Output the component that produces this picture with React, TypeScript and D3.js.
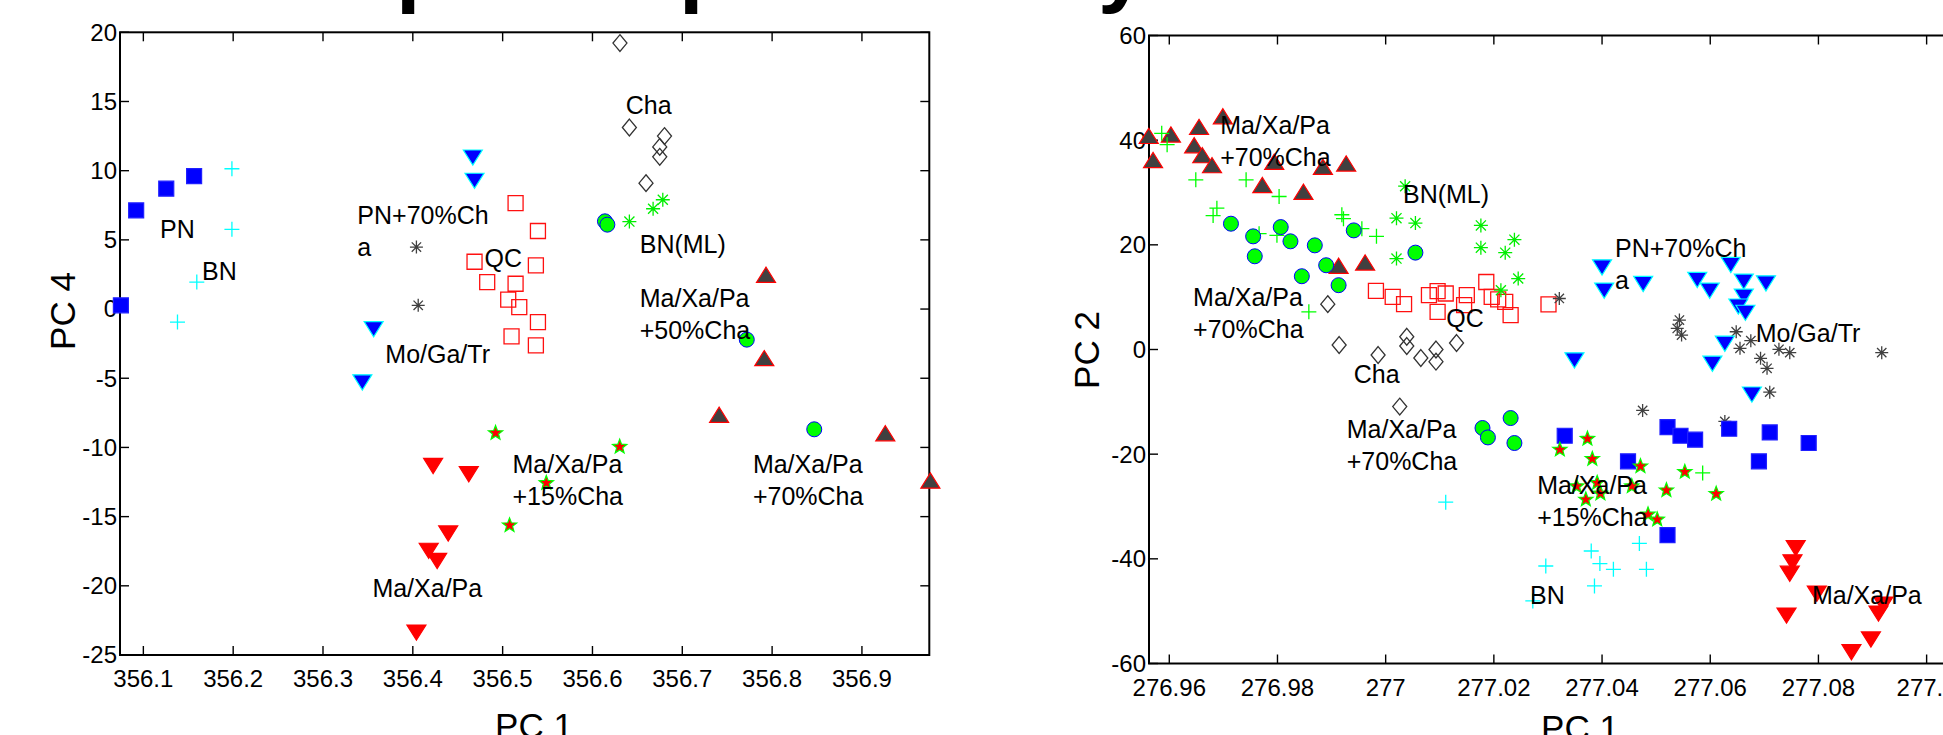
import React from "react";
import * as d3 from "d3";

const W = 1943;
const H = 735;
const FONT = "'Liberation Sans', Arial, Helvetica, sans-serif";

// ---------- left panel: PC 1 vs PC 4 ----------
const leftXTicks = [356.1, 356.2, 356.3, 356.4, 356.5, 356.6, 356.7, 356.8, 356.9];
const leftYTicks = [-25, -20, -15, -10, -5, 0, 5, 10, 15, 20];

const lPN = [[356.092, 7.13], [356.1255, 8.7], [356.1565, 9.61], [356.075, 0.27]];
const lBN = [[356.1986, 10.14], [356.1986, 5.76], [356.1595, 1.95], [356.138, -0.94]];
const lPN70 = [[356.4668, 10.98], [356.4687, 9.3], [356.3564, -1.42], [356.3438, -5.27]];
const lMGT = [[356.404, 4.48], [356.406, 0.27]];
const lQC = [
  [356.5144, 7.66], [356.5393, 5.64], [356.4687, 3.42], [356.537, 3.16],
  [356.4828, 1.95], [356.5144, 1.83], [356.5062, 0.68], [356.5185, 0.14],
  [356.5393, -0.94], [356.5099, -1.97], [356.537, -2.62],
];
const lCha = [
  [356.6306, 19.22], [356.6411, 13.12], [356.6802, 12.5],
  [356.6749, 11.72], [356.6749, 11.0], [356.6596, 9.1],
];
const lBNML = [[356.6411, 6.32], [356.6675, 7.25], [356.6783, 7.9]];
const lM50 = [[356.6139, 6.34], [356.6166, 6.1], [356.7718, -2.21], [356.8469, -8.69]];
const lM70 = [[356.7932, 2.44], [356.7913, -3.58], [356.741, -7.68], [356.926, -9.01], [356.9762, -12.43]];
const lMXP = [
  [356.4226, -11.3], [356.4623, -11.9], [356.4394, -16.19],
  [356.4177, -17.44], [356.4271, -18.17], [356.404, -23.35],
];
const lM15 = [[356.4921, -8.96], [356.5077, -15.63], [356.5486, -12.57], [356.6303, -9.95]];

const leftLabels = [
  { x: 356.1186, y: 5.11, lines: ["PN"] },
  { x: 356.1654, y: 2.07, lines: ["BN"] },
  { x: 356.3382, y: 6.12, lines: ["PN+70%Ch", "a"] },
  { x: 356.4798, y: 3.01, lines: ["QC"] },
  { x: 356.3694, y: -3.92, lines: ["Mo/Ga/Tr"] },
  { x: 356.637, y: 14.07, lines: ["Cha"] },
  { x: 356.6526, y: 4.02, lines: ["BN(ML)"] },
  { x: 356.6526, y: 0.12, lines: ["Ma/Xa/Pa", "+50%Cha"] },
  { x: 356.355, y: -20.83, lines: ["Ma/Xa/Pa"] },
  { x: 356.511, y: -11.87, lines: ["Ma/Xa/Pa", "+15%Cha"] },
  { x: 356.7786, y: -11.87, lines: ["Ma/Xa/Pa", "+70%Cha"] },
];

// ---------- right panel: PC 1 vs PC 2 ----------
const rightXTicks = [276.96, 276.98, 277, 277.02, 277.04, 277.06, 277.08, 277.1];
const rightYTicks = [-60, -40, -20, 0, 20, 40, 60];

const rM70 = [
  [276.9562, 40.72], [276.957, 36.1], [276.9603, 41.0], [276.9655, 42.44], [276.9646, 38.95],
  [276.9661, 37.05], [276.9679, 35.14], [276.9699, 44.48], [276.9772, 31.33], [276.9794, 35.77],
  [276.9848, 30.06], [276.9884, 34.83], [276.9927, 35.46], [276.9913, 15.9], [276.9962, 16.54],
];
const rGreenPlus = [
  [276.9586, 41.3], [276.9596, 39.14], [276.9649, 32.42], [276.9742, 32.42], [276.9688, 27.0],
  [276.9681, 25.6], [276.9803, 29.24], [276.9766, 22.13], [276.9799, 21.81], [276.9919, 25.75],
  [276.9922, 24.99], [276.9956, 23.09], [276.9983, 21.62], [276.9858, 7.2], [277.0586, -23.58],
];
const rBNML = [
  [277.0036, 31.2], [277.002, 25.1], [277.0055, 24.15], [277.002, 17.37], [277.0176, 23.71],
  [277.0176, 19.46], [277.0221, 18.51], [277.0238, 20.99], [277.0245, 13.56], [277.0213, 11.33],
];
const rM50 = [
  [276.9714, 24.04], [276.9755, 21.62], [276.9758, 17.81], [276.9806, 23.39], [276.9824, 20.67],
  [276.9869, 19.9], [276.989, 16.1], [276.9845, 14.0], [276.9913, 12.29], [276.9941, 22.76],
  [277.0055, 18.51], [277.0179, -15.0], [277.0189, -16.8], [277.0231, -13.1], [277.0238, -17.87],
];
const rQC = [
  [276.9982, 11.2], [277.0013, 10.06], [277.0034, 8.67], [277.008, 10.38], [277.0096, 11.14],
  [277.0111, 10.7], [277.0096, 7.2], [277.015, 10.38], [277.0145, 8.48], [277.0186, 12.9],
  [277.0196, 10.06], [277.0208, 9.57], [277.0221, 9.11], [277.0231, 6.57], [277.0301, 8.61],
];
const rCha = [
  [276.9893, 8.67], [276.9914, 0.86], [276.9986, -1.05], [277.0039, 2.44], [277.0039, 0.67],
  [277.0065, -1.62], [277.0093, 0.0], [277.0093, -2.32], [277.0131, 1.24], [277.0026, -10.9],
];
const rPN70 = [
  [277.04, 15.77], [277.0404, 11.33], [277.0476, 12.6], [277.0576, 13.37], [277.0599, 11.33],
  [277.0638, 16.23], [277.0662, 13.05], [277.0703, 12.72], [277.0662, 10.19], [277.0652, 8.29],
  [277.0665, 7.09], [277.0627, 1.18], [277.0349, -2.0], [277.0604, -2.63], [277.0677, -8.53],
];
const rMGT = [
  [277.0321, 9.75], [277.0543, 5.62], [277.0539, 4.03], [277.0547, 2.76], [277.0648, 3.39],
  [277.0675, 1.68], [277.0655, 0.23], [277.0727, 0.04], [277.0747, -0.6], [277.0917, -0.6],
  [277.0693, -1.68], [277.0705, -3.59], [277.071, -8.15], [277.0475, -11.65], [277.0627, -13.75],
];
const rPN = [
  [277.0331, -16.48], [277.0521, -14.82], [277.0545, -16.48], [277.0572, -17.24], [277.0635, -15.14],
  [277.071, -15.85], [277.0782, -17.87], [277.069, -21.37], [277.0448, -21.37], [277.0521, -35.47],
];
const rM15 = [
  [277.0322, -19.14], [277.0373, -17.05], [277.0382, -20.91], [277.0471, -22.32], [277.0553, -23.39],
  [277.0611, -27.58], [277.0519, -26.9], [277.0455, -26.13], [277.0391, -25.49], [277.0353, -26.13],
  [277.0397, -27.52], [277.037, -28.67], [277.0485, -31.52], [277.0502, -32.48],
];
const rBN = [
  [277.0296, -41.37], [277.038, -38.5], [277.0396, -40.9], [277.0421, -42.0], [277.0469, -37.05],
  [277.0482, -42.0], [277.0386, -45.18], [277.0272, -48.04], [277.0111, -29.18],
];
const rMXP = [
  [277.0758, -37.87], [277.0752, -40.6], [277.0747, -42.76], [277.0741, -50.76], [277.0797, -46.57],
  [277.0911, -50.38], [277.092, -48.67], [277.0897, -55.33], [277.0861, -57.75],
];

const rightLabels = [
  { x: 276.9694, y: 41.24, lines: ["Ma/Xa/Pa", "+70%Cha"] },
  { x: 277.0032, y: 27.9, lines: ["BN(ML)"] },
  { x: 276.9644, y: 8.29, lines: ["Ma/Xa/Pa", "+70%Cha"] },
  { x: 277.0112, y: 4.29, lines: ["QC"] },
  { x: 276.9941, y: -6.38, lines: ["Cha"] },
  { x: 276.9928, y: -16.86, lines: ["Ma/Xa/Pa", "+70%Cha"] },
  { x: 277.0424, y: 17.62, lines: ["PN+70%Ch", "a"] },
  { x: 277.0684, y: 1.43, lines: ["Mo/Ga/Tr"] },
  { x: 277.028, y: -27.52, lines: ["Ma/Xa/Pa", "+15%Cha"] },
  { x: 277.0267, y: -48.67, lines: ["BN"] },
  { x: 277.0788, y: -48.67, lines: ["Ma/Xa/Pa"] },
];

// marker styles
const STY: Record<string, any> = {
  pn: { shape: "square", fill: "#0000ff", stroke: "#2020ff", size: 15 },
  bn: { shape: "plus", fill: "none", stroke: "#00ffff", size: 15 },
  gplus: { shape: "plus", fill: "none", stroke: "#00ff00", size: 15 },
  pn70: { shape: "triDown", fill: "#0000ff", stroke: "#00ffff", size: 19 },
  mgt: { shape: "asterisk", fill: "none", stroke: "#404040", size: 13 },
  bnml: { shape: "asterisk", fill: "none", stroke: "#00ee00", size: 14 },
  qc: { shape: "square", fill: "none", stroke: "#ff1010", size: 15 },
  cha: { shape: "diamond", fill: "none", stroke: "#333333", size: 14 },
  m50: { shape: "circle", fill: "#00ff00", stroke: "#0000ff", size: 15 },
  m70: { shape: "triUp", fill: "#404040", stroke: "#ff0000", size: 19 },
  mxp: { shape: "triDown", fill: "#ff0000", stroke: "#ff0000", size: 19 },
  m15: { shape: "star", fill: "#ff0000", stroke: "#00ff00", size: 15 },
};

function markerPath(shape: string, s: number) {
  const h = s / 2;
  switch (shape) {
    case "square":
      return `M${-h},${-h}H${h}V${h}H${-h}Z`;
    case "plus":
      return `M${-h},0H${h}M0,${-h}V${h}`;
    case "asterisk": {
      const d = h * 0.72;
      return `M${-h},0H${h}M0,${-h}V${h}M${-d},${-d}L${d},${d}M${-d},${d}L${d},${-d}`;
    }
    case "diamond":
      return `M0,${-h * 1.2}L${h},0L0,${h * 1.2}L${-h},0Z`;
    case "triDown":
      return `M${-h},${-h * 0.75}L${h},${-h * 0.75}L0,${h * 0.85}Z`;
    case "triUp":
      return `M${-h},${h * 0.75}L${h},${h * 0.75}L0,${-h * 0.85}Z`;
    case "star": {
      const pts: string[] = [];
      for (let i = 0; i < 10; i++) {
        const r = i % 2 === 0 ? h : h * 0.42;
        const a = -Math.PI / 2 + (i * Math.PI) / 5;
        pts.push(`${(r * Math.cos(a)).toFixed(2)},${(r * Math.sin(a)).toFixed(2)}`);
      }
      return "M" + pts.join("L") + "Z";
    }
    default:
      return "";
  }
}

const fmt = (v: number) => String(+v.toFixed(4));

type Series = { data: number[][]; key: string };

function Panel({ x, y, xTicks, yTicks, series, labels, yTitle, yTitlePos, xTitlePos }: any) {
  const [x0, x1] = x.range();
  const [y0, y1] = y.range(); // y0 bottom, y1 top
  const tl = 9;
  return (
    <g>
      {/* frame */}
      <rect x={x0} y={y1} width={x1 - x0} height={y0 - y1} fill="none" stroke="#000" strokeWidth={2} />
      {xTicks.map((t: number) => (
        <g key={"xt" + t}>
          <line x1={x(t)} x2={x(t)} y1={y0} y2={y0 - tl} stroke="#000" strokeWidth={1.4} />
          <line x1={x(t)} x2={x(t)} y1={y1} y2={y1 + tl} stroke="#000" strokeWidth={1.4} />
          <text x={x(t)} y={y0 + 32} textAnchor="middle" fontSize={24} fontFamily={FONT}>
            {fmt(t)}
          </text>
        </g>
      ))}
      {yTicks.map((t: number) => (
        <g key={"yt" + t}>
          <line x1={x0} x2={x0 + tl} y1={y(t)} y2={y(t)} stroke="#000" strokeWidth={1.4} />
          <line x1={x1} x2={x1 - tl} y1={y(t)} y2={y(t)} stroke="#000" strokeWidth={1.4} />
          <text x={x0 - 3} y={y(t)} dy="0.35em" textAnchor="end" fontSize={24} fontFamily={FONT}>
            {fmt(t)}
          </text>
        </g>
      ))}
      {series.map((s: Series) => {
        const st = STY[s.key];
        return (
          <g key={s.key}>
            {s.data.map((d, i) =>
              st.shape === "circle" ? (
                <circle key={i} cx={x(d[0])} cy={y(d[1])} r={st.size / 2} fill={st.fill} stroke={st.stroke} strokeWidth={1} />
              ) : (
                <path
                  key={i}
                  d={markerPath(st.shape, st.size)}
                  transform={`translate(${x(d[0])},${y(d[1])})`}
                  fill={st.fill}
                  stroke={st.stroke}
                  strokeWidth={st.fill === "none" ? 1.3 : 1.2}
                />
              )
            )}
          </g>
        );
      })}
      {labels.map((l: any, i: number) => (
        <text key={"lb" + i} x={x(l.x)} y={y(l.y)} fontSize={25} fontFamily={FONT} fill="#000">
          {l.lines.map((ln: string, j: number) => (
            <tspan key={j} x={x(l.x)} dy={j === 0 ? 0 : 32}>
              {ln}
            </tspan>
          ))}
        </text>
      ))}
      <text
        transform={`translate(${yTitlePos[0]},${yTitlePos[1]}) rotate(-90)`}
        textAnchor="middle"
        fontSize={35}
        fontFamily={FONT}
      >
        {yTitle}
      </text>
      <text x={xTitlePos[0]} y={xTitlePos[1]} textAnchor="middle" fontSize={35} fontFamily={FONT}>
        PC 1
      </text>
    </g>
  );
}

export default function App() {
  const lx = d3.scaleLinear().domain([356.074, 356.975]).range([120, 929.3]);
  const ly = d3.scaleLinear().domain([-25, 20]).range([655, 32.3]);
  const rx = d3.scaleLinear().domain([276.95625, 277.1058]).range([1149, 1958]);
  const ry = d3.scaleLinear().domain([-60, 60]).range([663.5, 35.5]);

  const leftSeries: Series[] = [
    { key: "qc", data: lQC },
    { key: "cha", data: lCha },
    { key: "mgt", data: lMGT },
    { key: "bn", data: lBN },
    { key: "bnml", data: lBNML },
    { key: "pn", data: lPN },
    { key: "pn70", data: lPN70 },
    { key: "m50", data: lM50 },
    { key: "m70", data: lM70 },
    { key: "mxp", data: lMXP },
    { key: "m15", data: lM15 },
  ];
  const rightSeries: Series[] = [
    { key: "qc", data: rQC },
    { key: "cha", data: rCha },
    { key: "mgt", data: rMGT },
    { key: "bn", data: rBN },
    { key: "m70", data: rM70 },
    { key: "gplus", data: rGreenPlus },
    { key: "bnml", data: rBNML },
    { key: "m50", data: rM50 },
    { key: "pn", data: rPN },
    { key: "pn70", data: rPN70 },
    { key: "mxp", data: rMXP },
    { key: "m15", data: rM15 },
  ];

  return (
    <svg
      width={W}
      height={H}
      style={{ position: "absolute", left: 0, top: 0, background: "#fff", overflow: "hidden" }}
    >
      <rect width={W} height={H} fill="#fff" />
      {/* title, cut off at the top edge: only descenders show */}
      <text y={-4} fontSize={88} fontWeight="bold" fontFamily={FONT}>
        <tspan x={396}>p</tspan>
        <tspan x={679}>p</tspan>
        <tspan x={1098}>y</tspan>
      </text>
      <Panel
        x={lx}
        y={ly}
        xTicks={leftXTicks}
        yTicks={leftYTicks}
        series={leftSeries}
        labels={leftLabels}
        yTitle="PC 4"
        yTitlePos={[75, 311]}
        xTitlePos={[534, 738]}
      />
      <Panel
        x={rx}
        y={ry}
        xTicks={rightXTicks}
        yTicks={rightYTicks}
        series={rightSeries}
        labels={rightLabels}
        yTitle="PC 2"
        yTitlePos={[1099, 350]}
        xTitlePos={[1580, 740]}
      />
    </svg>
  );
}
